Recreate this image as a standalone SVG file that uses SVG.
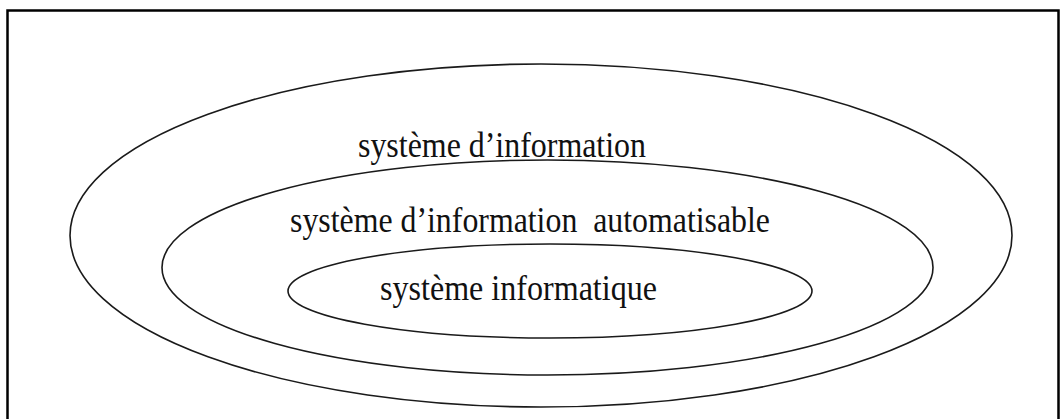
<svg xmlns="http://www.w3.org/2000/svg" width="1062" height="419" viewBox="0 0 1062 419">
<style>
.ring{fill:none;stroke:#1a1a1a;stroke-width:1.6}
.lbl{font-family:"Liberation Serif","Times New Roman",serif;font-size:35px;fill:#111}
.frame{fill:none;stroke:#000;stroke-width:2.5}
</style>
<rect x="0" y="0" width="1062" height="419" fill="#fff"/>
<path class="frame" d="M7.5,430 V10.5 H1058.5 V430"/>
<g id="outer">
<ellipse class="ring" cx="541" cy="235.5" rx="471" ry="171.5"/>
<text class="lbl" x="358" y="157" textLength="288" lengthAdjust="spacingAndGlyphs">système d’information</text>
</g>
<g id="middle">
<ellipse class="ring" cx="547.5" cy="267.5" rx="385.5" ry="107.5"/>
<text class="lbl" x="290" y="232" textLength="480" lengthAdjust="spacingAndGlyphs" xml:space="preserve">système d’information  automatisable</text>
</g>
<g id="inner">
<ellipse class="ring" cx="550" cy="291" rx="262" ry="47"/>
<text class="lbl" x="380" y="300" textLength="277" lengthAdjust="spacingAndGlyphs">système informatique</text>
</g>
<g id="connectors"/>
</svg>
